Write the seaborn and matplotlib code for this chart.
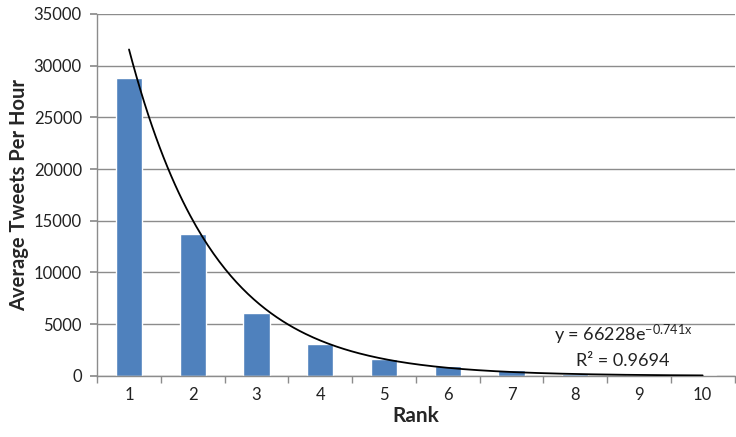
import numpy as np
import pandas as pd
import matplotlib
matplotlib.use("Agg")
import matplotlib.pyplot as plt
import seaborn as sns

ranks = [1, 2, 3, 4, 5, 6, 7, 8, 9, 10]
avg_tweets = [28800, 13700, 6100, 3100, 1600, 950, 580, 180, 60, 100]
fit_a = 66228
fit_b = -0.741
r_squared = 0.9694

sns.set_theme(style="white")
plt.rcParams['font.family'] = ['Lato', 'DejaVu Sans']
plt.rcParams['mathtext.fontset'] = 'custom'
plt.rcParams['mathtext.rm'] = 'Lato'
plt.rcParams['mathtext.default'] = 'regular'

df = pd.DataFrame({'Rank': ranks, 'Tweets': avg_tweets})

fig = plt.figure(figsize=(7.36, 4.37), dpi=100)
ax = fig.add_axes([0.132, 0.14, 0.866, 0.828])

sns.barplot(data=df, x='Rank', y='Tweets', color='#4F81BD', width=0.41,
            saturation=1, ax=ax, zorder=2)

# exponential trendline
xs = np.linspace(1, 10, 300)
ax.plot(xs - 1, fit_a * np.exp(fit_b * xs), color='black', lw=1.3, zorder=3)

ax.set_ylim(0, 35000)
ax.set_xlim(-0.5, 9.5)
ax.set_yticks(range(0, 35001, 5000))
ax.yaxis.grid(True, color='#8c8c8c', lw=1)
ax.set_axisbelow(True)

for s in ['top', 'right']:
    ax.spines[s].set_visible(False)
for s in ['left', 'bottom']:
    ax.spines[s].set_color('#8c8c8c')
    ax.spines[s].set_linewidth(1)

ax.set_xticks(np.arange(-0.5, 9.6, 1), minor=True)
ax.tick_params(axis='x', which='major', length=0, pad=8, labelsize=12, labelcolor='#222222')
ax.tick_params(axis='x', which='minor', length=5, color='#8c8c8c', direction='out', bottom=True)
ax.tick_params(axis='y', length=5, color='#8c8c8c', direction='out', left=True, labelsize=12,
               labelcolor='#222222', pad=6)

ax.set_xlabel('Rank', fontsize=15, fontweight='bold', labelpad=2)
ax.set_ylabel('Average Tweets Per Hour', fontsize=14.5, fontweight='bold', labelpad=3)

ax.text(7.75, 4000, 'y = %de$^{%.3fx}$' % (fit_a, fit_b), fontsize=13, ha='center', va='center',
        color='#222222')
ax.text(7.75, 1400, 'R² = %.4f' % r_squared, fontsize=13, ha='center', va='center', color='#222222')

fig.savefig('out.png', dpi=100)
